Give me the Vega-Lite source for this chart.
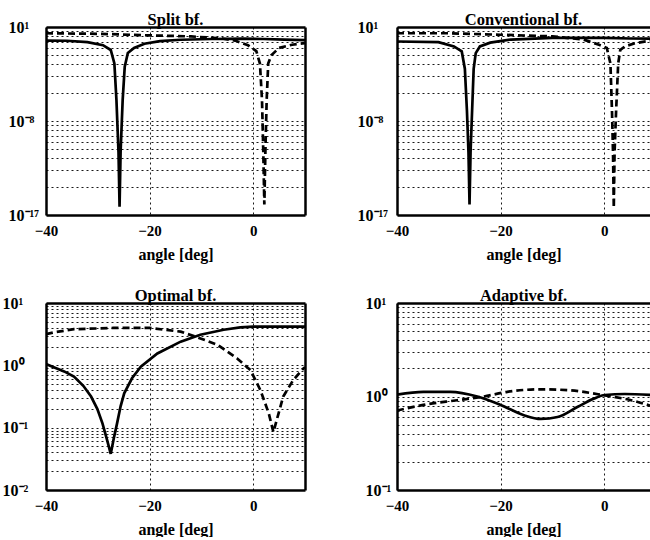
{
  "$schema": "https://vega.github.io/schema/vega-lite/v6.json",
  "autosize": {"type": "pad"},
  "padding": {"left": 2, "top": 11, "right": 0, "bottom": 0},
  "background": "white",
  "bounds": "flush",
  "columns": 2,
  "spacing": {"row": 88, "column": 92},
  "datasets": {
    "curves": [
      {"p": "split", "s": "solid", "a": -40, "v": 0.5},
      {"p": "split", "s": "solid", "a": -36, "v": 0.48},
      {"p": "split", "s": "solid", "a": -32, "v": 0.36},
      {"p": "split", "s": "solid", "a": -29, "v": 0.18},
      {"p": "split", "s": "solid", "a": -27.5, "v": 0.063},
      {"p": "split", "s": "solid", "a": -26.8, "v": 0.0032},
      {"p": "split", "s": "solid", "a": -26.4, "v": 1e-6},
      {"p": "split", "s": "solid", "a": -26.0, "v": 1e-11},
      {"p": "split", "s": "solid", "a": -25.8, "v": 6.3e-17},
      {"p": "split", "s": "solid", "a": -25.6, "v": 1e-11},
      {"p": "split", "s": "solid", "a": -25.2, "v": 1e-6},
      {"p": "split", "s": "solid", "a": -24.8, "v": 0.0016},
      {"p": "split", "s": "solid", "a": -24.2, "v": 0.032},
      {"p": "split", "s": "solid", "a": -23, "v": 0.1},
      {"p": "split", "s": "solid", "a": -21, "v": 0.25},
      {"p": "split", "s": "solid", "a": -18, "v": 0.45},
      {"p": "split", "s": "solid", "a": -14, "v": 0.6},
      {"p": "split", "s": "solid", "a": -8, "v": 0.71},
      {"p": "split", "s": "solid", "a": -2, "v": 0.76},
      {"p": "split", "s": "solid", "a": 2, "v": 0.71},
      {"p": "split", "s": "solid", "a": 6, "v": 0.63},
      {"p": "split", "s": "solid", "a": 10, "v": 0.56},
      {"p": "split", "s": "dashed", "a": -40, "v": 2.51},
      {"p": "split", "s": "dashed", "a": -30, "v": 2.24},
      {"p": "split", "s": "dashed", "a": -20, "v": 1.58},
      {"p": "split", "s": "dashed", "a": -12, "v": 1.26},
      {"p": "split", "s": "dashed", "a": -6, "v": 0.794},
      {"p": "split", "s": "dashed", "a": -3.5, "v": 0.501},
      {"p": "split", "s": "dashed", "a": -1, "v": 0.178},
      {"p": "split", "s": "dashed", "a": 0.6, "v": 0.0501},
      {"p": "split", "s": "dashed", "a": 1.3, "v": 0.00316},
      {"p": "split", "s": "dashed", "a": 1.7, "v": 1e-6},
      {"p": "split", "s": "dashed", "a": 1.95, "v": 1e-11},
      {"p": "split", "s": "dashed", "a": 2.15, "v": 1e-16},
      {"p": "split", "s": "dashed", "a": 2.35, "v": 1e-11},
      {"p": "split", "s": "dashed", "a": 2.6, "v": 1e-6},
      {"p": "split", "s": "dashed", "a": 2.9, "v": 0.00316},
      {"p": "split", "s": "dashed", "a": 3.5, "v": 0.02},
      {"p": "split", "s": "dashed", "a": 5, "v": 0.1},
      {"p": "split", "s": "dashed", "a": 7.5, "v": 0.2},
      {"p": "split", "s": "dashed", "a": 10, "v": 0.282},
      {"p": "conv", "s": "solid", "a": -40, "v": 0.407},
      {"p": "conv", "s": "solid", "a": -32, "v": 0.355},
      {"p": "conv", "s": "solid", "a": -29, "v": 0.138},
      {"p": "conv", "s": "solid", "a": -27.5, "v": 0.0457},
      {"p": "conv", "s": "solid", "a": -26.9, "v": 0.001},
      {"p": "conv", "s": "solid", "a": -26.5, "v": 1e-7},
      {"p": "conv", "s": "solid", "a": -26.2, "v": 1e-11},
      {"p": "conv", "s": "solid", "a": -26.0, "v": 1e-16},
      {"p": "conv", "s": "solid", "a": -25.8, "v": 1e-11},
      {"p": "conv", "s": "solid", "a": -25.5, "v": 1e-7},
      {"p": "conv", "s": "solid", "a": -25.2, "v": 0.001},
      {"p": "conv", "s": "solid", "a": -24.8, "v": 0.0316},
      {"p": "conv", "s": "solid", "a": -24, "v": 0.138},
      {"p": "conv", "s": "solid", "a": -22, "v": 0.316},
      {"p": "conv", "s": "solid", "a": -18, "v": 0.631},
      {"p": "conv", "s": "solid", "a": -10, "v": 0.891},
      {"p": "conv", "s": "solid", "a": 0, "v": 0.891},
      {"p": "conv", "s": "solid", "a": 5, "v": 0.794},
      {"p": "conv", "s": "solid", "a": 9, "v": 0.759},
      {"p": "conv", "s": "dashed", "a": -40, "v": 2.51},
      {"p": "conv", "s": "dashed", "a": -30, "v": 2.51},
      {"p": "conv", "s": "dashed", "a": -20, "v": 1.82},
      {"p": "conv", "s": "dashed", "a": -10, "v": 1.26},
      {"p": "conv", "s": "dashed", "a": -4, "v": 0.631},
      {"p": "conv", "s": "dashed", "a": -1, "v": 0.2},
      {"p": "conv", "s": "dashed", "a": 0.5, "v": 0.1},
      {"p": "conv", "s": "dashed", "a": 1.2, "v": 0.00316},
      {"p": "conv", "s": "dashed", "a": 1.5, "v": 1e-7},
      {"p": "conv", "s": "dashed", "a": 1.7, "v": 1e-11},
      {"p": "conv", "s": "dashed", "a": 1.85, "v": 5e-17},
      {"p": "conv", "s": "dashed", "a": 2.0, "v": 1e-11},
      {"p": "conv", "s": "dashed", "a": 2.3, "v": 1e-7},
      {"p": "conv", "s": "dashed", "a": 2.7, "v": 0.00316},
      {"p": "conv", "s": "dashed", "a": 3.1, "v": 0.063},
      {"p": "conv", "s": "dashed", "a": 4, "v": 0.141},
      {"p": "conv", "s": "dashed", "a": 6, "v": 0.282},
      {"p": "conv", "s": "dashed", "a": 9, "v": 0.501},
      {"p": "opt", "s": "solid", "a": -40, "v": 1.05},
      {"p": "opt", "s": "solid", "a": -38.5, "v": 0.933},
      {"p": "opt", "s": "solid", "a": -36.5, "v": 0.8},
      {"p": "opt", "s": "solid", "a": -34.6, "v": 0.661},
      {"p": "opt", "s": "solid", "a": -32.8, "v": 0.47},
      {"p": "opt", "s": "solid", "a": -31.3, "v": 0.316},
      {"p": "opt", "s": "solid", "a": -30.1, "v": 0.2},
      {"p": "opt", "s": "solid", "a": -29.1, "v": 0.117},
      {"p": "opt", "s": "solid", "a": -28.2, "v": 0.063},
      {"p": "opt", "s": "solid", "a": -27.5, "v": 0.038},
      {"p": "opt", "s": "solid", "a": -26.9, "v": 0.068},
      {"p": "opt", "s": "solid", "a": -26.3, "v": 0.115},
      {"p": "opt", "s": "solid", "a": -25.6, "v": 0.22},
      {"p": "opt", "s": "solid", "a": -24.9, "v": 0.355},
      {"p": "opt", "s": "solid", "a": -23.4, "v": 0.62},
      {"p": "opt", "s": "solid", "a": -21.7, "v": 0.955},
      {"p": "opt", "s": "solid", "a": -18.5, "v": 1.55},
      {"p": "opt", "s": "solid", "a": -14, "v": 2.4},
      {"p": "opt", "s": "solid", "a": -10.2, "v": 3.09},
      {"p": "opt", "s": "solid", "a": -5.7, "v": 3.72},
      {"p": "opt", "s": "solid", "a": -2.5, "v": 4.05},
      {"p": "opt", "s": "solid", "a": 0, "v": 4.17},
      {"p": "opt", "s": "solid", "a": 10, "v": 4.17},
      {"p": "opt", "s": "dashed", "a": -40, "v": 3.16},
      {"p": "opt", "s": "dashed", "a": -38.4, "v": 3.39},
      {"p": "opt", "s": "dashed", "a": -34.6, "v": 3.8},
      {"p": "opt", "s": "dashed", "a": -27, "v": 3.98},
      {"p": "opt", "s": "dashed", "a": -20, "v": 3.98},
      {"p": "opt", "s": "dashed", "a": -14, "v": 3.47},
      {"p": "opt", "s": "dashed", "a": -10.8, "v": 2.82},
      {"p": "opt", "s": "dashed", "a": -6.9, "v": 2.14},
      {"p": "opt", "s": "dashed", "a": -3.1, "v": 1.29},
      {"p": "opt", "s": "dashed", "a": -0.5, "v": 0.832},
      {"p": "opt", "s": "dashed", "a": 1.4, "v": 0.398},
      {"p": "opt", "s": "dashed", "a": 3.0, "v": 0.17},
      {"p": "opt", "s": "dashed", "a": 3.9, "v": 0.085},
      {"p": "opt", "s": "dashed", "a": 4.9, "v": 0.17},
      {"p": "opt", "s": "dashed", "a": 5.8, "v": 0.316},
      {"p": "opt", "s": "dashed", "a": 7.7, "v": 0.575},
      {"p": "opt", "s": "dashed", "a": 9.7, "v": 0.891},
      {"p": "opt", "s": "dashed", "a": 10, "v": 0.933},
      {"p": "adapt", "s": "solid", "a": -40, "v": 1.047},
      {"p": "adapt", "s": "solid", "a": -34.9, "v": 1.122},
      {"p": "adapt", "s": "solid", "a": -29.7, "v": 1.122},
      {"p": "adapt", "s": "solid", "a": -24.5, "v": 1.0},
      {"p": "adapt", "s": "solid", "a": -20, "v": 0.813},
      {"p": "adapt", "s": "solid", "a": -15.5, "v": 0.631},
      {"p": "adapt", "s": "solid", "a": -12.2, "v": 0.575},
      {"p": "adapt", "s": "solid", "a": -9, "v": 0.603},
      {"p": "adapt", "s": "solid", "a": -5.1, "v": 0.776},
      {"p": "adapt", "s": "solid", "a": -1.9, "v": 0.955},
      {"p": "adapt", "s": "solid", "a": 0.1, "v": 1.037},
      {"p": "adapt", "s": "solid", "a": 4, "v": 1.064},
      {"p": "adapt", "s": "solid", "a": 9, "v": 1.037},
      {"p": "adapt", "s": "dashed", "a": -40, "v": 0.708},
      {"p": "adapt", "s": "dashed", "a": -34.9, "v": 0.813},
      {"p": "adapt", "s": "dashed", "a": -28.4, "v": 0.912},
      {"p": "adapt", "s": "dashed", "a": -23.2, "v": 1.0},
      {"p": "adapt", "s": "dashed", "a": -18.7, "v": 1.122},
      {"p": "adapt", "s": "dashed", "a": -12.2, "v": 1.194},
      {"p": "adapt", "s": "dashed", "a": -5.7, "v": 1.153},
      {"p": "adapt", "s": "dashed", "a": -1.2, "v": 1.057},
      {"p": "adapt", "s": "dashed", "a": 1.4, "v": 1.0},
      {"p": "adapt", "s": "dashed", "a": 5.2, "v": 0.912},
      {"p": "adapt", "s": "dashed", "a": 9, "v": 0.794}
    ]
  },
  "data": {"name": "curves"},
  "concat": [
    {
      "title": {"text": "Split bf."},
      "width": 259,
      "height": 188,
      "layer": [
        {
          "mark": {"type": "line", "color": "black", "strokeWidth": 2.7, "clip": true},
          "transform": [{"filter": "datum.p == 'split' && datum.s == 'solid'"}],
          "encoding": {
            "x": {"field": "a", "type": "quantitative", "scale": {"domain": [-40, 10], "nice": false, "zero": false},
                  "axis": {"values": [-40, -20, 0], "title": "angle [deg]", "labelPadding": 8, "titlePadding": 8}},
            "y": {"field": "v", "type": "quantitative", "scale": {"type": "log", "domain": [1e-17, 10], "nice": false},
                  "axis": {"title": null, "labelAlign": "left", "labelPadding": 38, "labelBaseline": "middle", "labelFontSize": 16,
                           "values": [1e-17, 5.12e-15, 1.9683e-13, 2.62144e-12, 1.953125e-11, 1.0077696e-10, 4.0353607e-10, 1.34217728e-9, 3.87420489e-9, 1e-8, 5.12e-6, 1.9683e-4, 2.62144e-3, 1.953125e-2, 0.10077696, 0.40353607, 1.34217728, 3.87420489, 10],
                           "labelExpr": "datum.value == 10 ? '10¹' : datum.value == 1e-8 ? '10⁻⁸' : datum.value == 1e-17 ? '10⁻¹⁷' : ''"}}
          }
        },
        {
          "mark": {"type": "line", "color": "black", "strokeWidth": 2.7, "strokeDash": [7, 4], "clip": true},
          "transform": [{"filter": "datum.p == 'split' && datum.s == 'dashed'"}],
          "encoding": {
            "x": {"field": "a", "type": "quantitative", "axis": {"orient": "top", "labels": false, "grid": false, "title": null}},
            "y": {"field": "v", "type": "quantitative", "axis": {"orient": "right", "labels": false, "grid": false, "title": null}}
          }
        }
      ],
      "resolve": {"axis": {"x": "independent", "y": "independent"}}
    },
    {
      "title": {"text": "Conventional bf."},
      "width": 253,
      "height": 188,
      "layer": [
        {
          "mark": {"type": "line", "color": "black", "strokeWidth": 2.7, "clip": true},
          "transform": [{"filter": "datum.p == 'conv' && datum.s == 'solid'"}],
          "encoding": {
            "x": {"field": "a", "type": "quantitative", "scale": {"domain": [-40, 8.84], "nice": false, "zero": false},
                  "axis": {"values": [-40, -20, 0], "title": "angle [deg]", "labelPadding": 8, "titlePadding": 8}},
            "y": {"field": "v", "type": "quantitative", "scale": {"type": "log", "domain": [1e-17, 10], "nice": false},
                  "axis": {"title": null, "labelAlign": "left", "labelPadding": 40, "labelBaseline": "middle", "labelFontSize": 16,
                           "values": [1e-17, 5.12e-15, 1.9683e-13, 2.62144e-12, 1.953125e-11, 1.0077696e-10, 4.0353607e-10, 1.34217728e-9, 3.87420489e-9, 1e-8, 5.12e-6, 1.9683e-4, 2.62144e-3, 1.953125e-2, 0.10077696, 0.40353607, 1.34217728, 3.87420489, 10],
                           "labelExpr": "datum.value == 10 ? '10¹' : datum.value == 1e-8 ? '10⁻⁸' : datum.value == 1e-17 ? '10⁻¹⁷' : ''"}}
          }
        },
        {
          "mark": {"type": "line", "color": "black", "strokeWidth": 2.7, "strokeDash": [7, 4], "clip": true},
          "transform": [{"filter": "datum.p == 'conv' && datum.s == 'dashed'"}],
          "encoding": {
            "x": {"field": "a", "type": "quantitative", "axis": {"orient": "top", "labels": false, "grid": false, "title": null}},
            "y": {"field": "v", "type": "quantitative", "axis": null}
          }
        }
      ],
      "resolve": {"axis": {"x": "independent", "y": "independent"}}
    },
    {
      "title": {"text": "Optimal bf."},
      "width": 259,
      "height": 187,
      "layer": [
        {
          "mark": {"type": "line", "color": "black", "strokeWidth": 2.7, "clip": true},
          "transform": [{"filter": "datum.p == 'opt' && datum.s == 'solid'"}],
          "encoding": {
            "x": {"field": "a", "type": "quantitative", "scale": {"domain": [-40, 10], "nice": false, "zero": false},
                  "axis": {"values": [-40, -20, 0], "title": "angle [deg]", "labelPadding": 8, "titlePadding": 8}},
            "y": {"field": "v", "type": "quantitative", "scale": {"type": "log", "domain": [0.01, 10], "nice": false},
                  "axis": {"title": null, "labelAlign": "left", "labelPadding": 44, "labelBaseline": "middle", "labelFontSize": 16,
                           "values": [0.01, 0.02, 0.03, 0.04, 0.05, 0.06, 0.07, 0.08, 0.09, 0.1, 0.2, 0.3, 0.4, 0.5, 0.6, 0.7, 0.8, 0.9, 1, 2, 3, 4, 5, 6, 7, 8, 9, 10],
                           "labelExpr": "datum.value == 10 ? '10¹' : datum.value == 1 ? '10⁰' : datum.value == 0.1 ? '10⁻¹' : datum.value == 0.01 ? '10⁻²' : ''"}}
          }
        },
        {
          "mark": {"type": "line", "color": "black", "strokeWidth": 2.7, "strokeDash": [7, 4], "clip": true},
          "transform": [{"filter": "datum.p == 'opt' && datum.s == 'dashed'"}],
          "encoding": {
            "x": {"field": "a", "type": "quantitative", "axis": {"orient": "top", "labels": false, "grid": false, "title": null}},
            "y": {"field": "v", "type": "quantitative", "axis": {"orient": "right", "labels": false, "grid": false, "title": null}}
          }
        }
      ],
      "resolve": {"axis": {"x": "independent", "y": "independent"}}
    },
    {
      "title": {"text": "Adaptive bf."},
      "width": 253,
      "height": 187,
      "layer": [
        {
          "mark": {"type": "line", "color": "black", "strokeWidth": 2.7, "clip": true, "interpolate": "monotone"},
          "transform": [{"filter": "datum.p == 'adapt' && datum.s == 'solid'"}],
          "encoding": {
            "x": {"field": "a", "type": "quantitative", "scale": {"domain": [-40, 8.84], "nice": false, "zero": false},
                  "axis": {"values": [-40, -20, 0], "title": "angle [deg]", "labelPadding": 8, "titlePadding": 8}},
            "y": {"field": "v", "type": "quantitative", "scale": {"type": "log", "domain": [0.1, 10], "nice": false},
                  "axis": {"title": null, "labelAlign": "left", "labelPadding": 32, "labelBaseline": "middle", "labelFontSize": 16,
                           "values": [0.1, 0.2, 0.3, 0.4, 0.5, 0.6, 0.7, 0.8, 0.9, 1, 2, 3, 4, 5, 6, 7, 8, 9, 10],
                           "labelExpr": "datum.value == 10 ? '10¹' : datum.value == 1 ? '10⁰' : datum.value == 0.1 ? '10⁻¹' : ''"}}
          }
        },
        {
          "mark": {"type": "line", "color": "black", "strokeWidth": 2.7, "strokeDash": [7, 4], "clip": true, "interpolate": "monotone"},
          "transform": [{"filter": "datum.p == 'adapt' && datum.s == 'dashed'"}],
          "encoding": {
            "x": {"field": "a", "type": "quantitative", "axis": {"orient": "top", "labels": false, "grid": false, "title": null}},
            "y": {"field": "v", "type": "quantitative", "axis": null}
          }
        }
      ],
      "resolve": {"axis": {"x": "independent", "y": "independent"}}
    }
  ],
  "config": {
    "view": {"stroke": null},
    "axis": {
      "domainColor": "black", "domainWidth": 2.5,
      "gridColor": "black", "gridDash": [2, 3], "gridWidth": 1, "gridOpacity": 0.9,
      "ticks": false,
      "labelFont": "Liberation Serif", "labelFontWeight": "bold", "labelFontSize": 15, "labelColor": "black",
      "titleFont": "Liberation Serif", "titleFontWeight": "bold", "titleFontSize": 16, "titleColor": "black",
      "labelOverlap": false, "labelBound": false, "labelFlush": false
    },
    "title": {"font": "Liberation Serif", "fontSize": 16.5, "fontWeight": "bold", "color": "black", "offset": -9}
  }
}
